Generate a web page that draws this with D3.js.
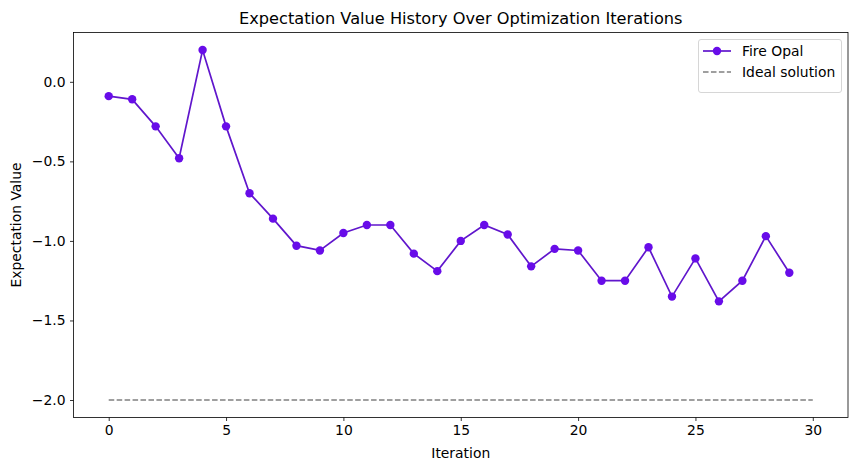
<!DOCTYPE html>
<html>
<head>
<meta charset="utf-8">
<script src="https://cdn.jsdelivr.net/npm/d3@7"></script>
<style>
  body { margin: 0; background: #fff; }
  text { font-family: "DejaVu Sans", sans-serif; fill: #000; }
</style>
</head>
<body>
<script>
// iteration index and measured expectation values
var iterations = d3.range(0, 30);
var fireOpal = [-0.09, -0.11, -0.28, -0.48, 0.2, -0.28, -0.70, -0.86, -1.03, -1.06,
                -0.95, -0.90, -0.90, -1.08, -1.19, -1.00, -0.90, -0.96, -1.16, -1.05,
                -1.06, -1.25, -1.25, -1.04, -1.35, -1.11, -1.38, -1.25, -0.97, -1.20];
var idealX = [0, 30];
var idealValue = -2;
var xTicks = [0, 5, 10, 15, 20, 25, 30];
var yTicks = [0.0, -0.5, -1.0, -1.5, -2.0];

var W = 857, H = 470;
var axL = 73.5, axR = 848, axT = 32.5, axB = 417.5;

var svg = d3.select("body").append("svg")
  .attr("width", W).attr("height", H);

var x = d3.scaleLinear().domain([-1.5, 31.5]).range([axL, axR]);
var y = d3.scaleLinear().domain([-2.11, 0.31]).range([axB, axT]);

var lineColor = "#6016cc";
var dotColor = "#680ce9";

// axes
var xAxis = svg.append("g")
  .attr("transform", "translate(0," + axB + ")")
  .call(d3.axisBottom(x).tickValues(xTicks).tickSize(3.5).tickPadding(4.5)
        .tickFormat(d3.format("d")));
var yAxis = svg.append("g")
  .attr("transform", "translate(" + axL + ",0)")
  .call(d3.axisLeft(y).tickValues(yTicks).tickSize(3.5).tickPadding(4.5)
        .tickFormat(function(d) { return d3.format(".1f")(d).replace("-", "\u2212"); }));

[xAxis, yAxis].forEach(function(a) {
  a.select(".domain").remove();
  a.selectAll("line").attr("stroke", "#000").attr("stroke-width", 0.8);
  a.selectAll("text").style("font-size", "13.9px").attr("fill", "#000");
});

// spines
svg.append("rect")
  .attr("x", axL).attr("y", axT)
  .attr("width", axR - axL).attr("height", axB - axT)
  .attr("fill", "none").attr("stroke", "#000").attr("stroke-width", 0.8);

// ideal solution line
svg.append("line")
  .attr("x1", x(idealX[0])).attr("x2", x(idealX[1]))
  .attr("y1", y(idealValue)).attr("y2", y(idealValue))
  .attr("stroke", "#808080").attr("stroke-width", 1.5)
  .attr("stroke-dasharray", "5.55,2.4");

// Fire Opal series
var line = d3.line()
  .x(function(d, i) { return x(iterations[i]); })
  .y(function(d) { return y(d); });

svg.append("path")
  .datum(fireOpal)
  .attr("d", line)
  .attr("fill", "none")
  .attr("stroke", lineColor)
  .attr("stroke-width", 1.7);

svg.selectAll("circle.pt")
  .data(fireOpal)
  .enter()
  .append("circle")
  .attr("class", "pt")
  .attr("cx", function(d, i) { return x(iterations[i]); })
  .attr("cy", function(d) { return y(d); })
  .attr("r", 4.2)
  .attr("fill", dotColor);

// title and labels
svg.append("text")
  .attr("x", (axL + axR) / 2).attr("y", 24)
  .attr("text-anchor", "middle")
  .style("font-size", "16.2px")
  .text("Expectation Value History Over Optimization Iterations");

svg.append("text")
  .attr("x", (axL + axR) / 2).attr("y", 458)
  .attr("text-anchor", "middle")
  .style("font-size", "13.9px")
  .text("Iteration");

svg.append("text")
  .attr("transform", "translate(21," + ((axT + axB) / 2) + ") rotate(-90)")
  .attr("text-anchor", "middle")
  .style("font-size", "13.9px")
  .text("Expectation Value");

// legend
var lg = svg.append("g");
lg.append("rect")
  .attr("x", 698.5).attr("y", 39.5).attr("width", 143).attr("height", 53)
  .attr("rx", 2.5)
  .attr("fill", "#fff").attr("fill-opacity", 0.8)
  .attr("stroke", "#d6d6d6").attr("stroke-width", 1);
lg.append("line")
  .attr("x1", 703).attr("x2", 731).attr("y1", 51).attr("y2", 51)
  .attr("stroke", lineColor).attr("stroke-width", 1.7);
lg.append("circle")
  .attr("cx", 717).attr("cy", 51).attr("r", 4.2).attr("fill", dotColor);
lg.append("text")
  .attr("x", 742).attr("y", 56)
  .style("font-size", "13.9px").text("Fire Opal");
lg.append("line")
  .attr("x1", 703).attr("x2", 731).attr("y1", 72).attr("y2", 72)
  .attr("stroke", "#808080").attr("stroke-width", 1.5)
  .attr("stroke-dasharray", "5.55,2.4");
lg.append("text")
  .attr("x", 742).attr("y", 77)
  .style("font-size", "13.9px").text("Ideal solution");
</script>
</body>
</html>
